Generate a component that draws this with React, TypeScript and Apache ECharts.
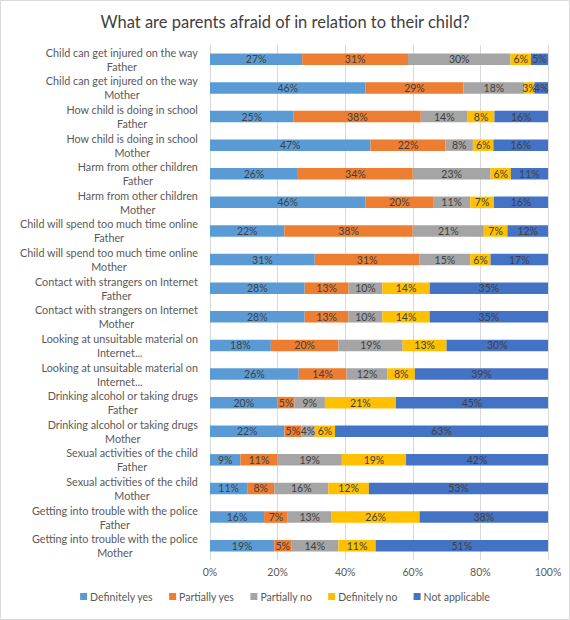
import React, { useEffect, useRef } from "react";
import * as echarts from "echarts";

const categories = [
  "Child can get injured on the way\nFather",
  "Child can get injured on the way\nMother",
  "How child is doing in school\nFather",
  "How child is doing in school\nMother",
  "Harm from other children\nFather",
  "Harm from other children\nMother",
  "Child will spend too much time online\nFather",
  "Child will spend too much time online\nMother",
  "Contact with strangers on Internet\nFather",
  "Contact with strangers on Internet\nMother",
  "Looking at unsuitable material on\nInternet...",
  "Looking at unsuitable material on\nInternet...",
  "Drinking alcohol or taking drugs\nFather",
  "Drinking alcohol or taking drugs\nMother",
  "Sexual activities of the child\nFather",
  "Sexual activities of the child\nMother",
  "Getting into trouble with the police\nFather",
  "Getting into trouble with the police\nMother",
];

const seriesNames = ["Definitely yes", "Partially yes", "Partially no", "Definitely no", "Not applicable"];
const seriesColors = ["#5B9BD5", "#ED7D31", "#A5A5A5", "#FFC000", "#4472C4"];

const definitelyYes = [27, 46, 25, 47, 26, 46, 22, 31, 28, 28, 18, 26, 20, 22, 9, 11, 16, 19];
const partiallyYes = [31, 29, 38, 22, 34, 20, 38, 31, 13, 13, 20, 14, 5, 5, 11, 8, 7, 5];
const partiallyNo = [30, 18, 14, 8, 23, 11, 21, 15, 10, 10, 19, 12, 9, 4, 19, 16, 13, 14];
const definitelyNo = [6, 3, 8, 6, 6, 7, 7, 6, 14, 14, 13, 8, 21, 6, 19, 12, 26, 11];
const notApplicable = [5, 4, 16, 16, 11, 16, 12, 17, 35, 35, 30, 39, 45, 63, 42, 53, 38, 51];

const xTicks = [0, 20, 40, 60, 80, 100];

const FONT = "Lato";

export default function App() {
  const ref = useRef<HTMLDivElement>(null);
  useEffect(() => {
    document.body.style.margin = "0";
    const chart = echarts.init(ref.current!, null, { renderer: "svg" });
    const all = [definitelyYes, partiallyYes, partiallyNo, definitelyNo, notApplicable];
    const rowSums = categories.map((_, i) => all.reduce((s, arr) => s + arr[i], 0));
    const series = all.map((arr, si) => ({
      name: seriesNames[si],
      type: "bar",
      stack: "total",
      barWidth: 11.5,
      itemStyle: { color: seriesColors[si] },
      label: {
        show: true,
        position: "inside",
        color: "#404040",
        fontFamily: FONT,
        fontSize: 10.5,
        formatter: (p: any) => `${arr[p.dataIndex]}%`,
      },
      data: arr.map((v, i) => (v / rowSums[i]) * 100),
    }));
    chart.setOption({
      animation: false,
      textStyle: { fontFamily: FONT },
      title: {
        text: "What are parents afraid of in relation to their child?",
        left: "center",
        top: 8,
        textStyle: { fontFamily: FONT, fontSize: 16.5, fontWeight: "normal", color: "#404040" },
      },
      graphic: [
        {
          type: "rect",
          shape: { x: 0.5, y: 0.5, width: 569, height: 619 },
          style: { fill: "none", stroke: "#D9D9D9", lineWidth: 1 },
          silent: true,
        },
      ],
      legend: {
        bottom: 13,
        left: "center",
        itemWidth: 7,
        itemHeight: 7,
        itemGap: 16,
        icon: "rect",
        textStyle: { fontFamily: FONT, fontSize: 10.5, color: "#595959", padding: [0, 0, 0, -2] },
        data: seriesNames,
      },
      grid: { left: 210, right: 22, top: 45, bottom: 60 },
      xAxis: {
        type: "value",
        min: xTicks[0],
        max: xTicks[xTicks.length - 1],
        interval: 20,
        axisLine: { show: false },
        axisTick: { show: false },
        axisLabel: { formatter: "{value}%", color: "#595959", fontFamily: FONT, fontSize: 10.5, margin: 6 },
        splitLine: { show: true, lineStyle: { color: "#D9D9D9" } },
      },
      yAxis: {
        type: "category",
        inverse: true,
        data: categories,
        axisLine: { show: false },
        axisTick: { show: false },
        axisLabel: {
          color: "#595959",
          fontFamily: FONT,
          fontSize: 10.8,
          lineHeight: 14,
          margin: 12,
          align: "right",
          formatter: (v: string) =>
            v
              .split("\n")
              .map((line) => `{c|${line}}`)
              .join("\n"),
          rich: {
            c: {
              align: "center",
              color: "#595959",
              fontFamily: FONT,
              fontSize: 10.8,
              lineHeight: 14,
            },
          },
        },
      },
      series,
    });
    return () => chart.dispose();
  }, []);
  return <div ref={ref} style={{ width: 570, height: 620 }} />;
}
